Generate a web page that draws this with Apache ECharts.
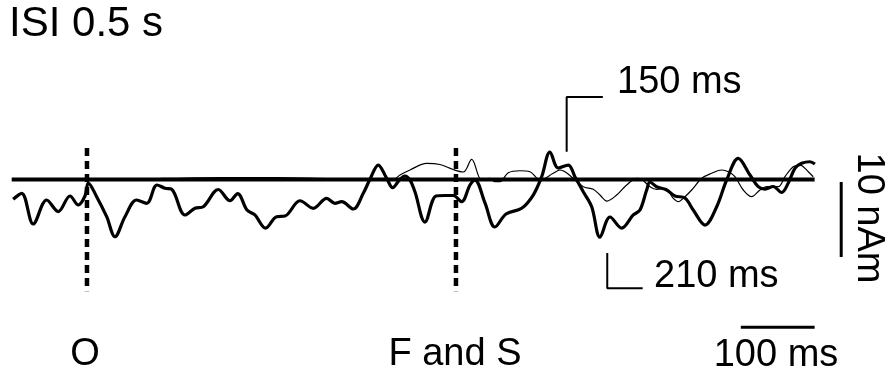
<!DOCTYPE html>
<html><head><meta charset="utf-8">
<script src="https://cdn.jsdelivr.net/npm/echarts/dist/echarts.min.js"></script>
<style>html,body{margin:0;padding:0;background:#fff}#c{width:892px;height:378px}</style>
</head><body><div id="c"></div><script>
// time in ms (0 = O onset), source strength in nAm
const thickTrace = [
[-100,-2.64],[-88.5,-1.84],[-72.8,-5.93],[-54.6,-2.73],[-38.9,-4.27],[-23,-2.2],[-11.8,-3.4],[-2.7,-2.2],[1.8,-0.47],
[13.1,-2.29],[26.7,-4.96],[37.9,-7.63],[51.5,-4.96],[67.3,-2.73],[80.9,-3.17],[94.9,-0.73],[105.7,-1.17],[114.8,-1.31],
[132.8,-4.73],[146.3,-3.84],[157.6,-3.63],[177.9,-1.33],[193.8,-2.83],[204.2,-1.87],[216.8,-4.07],[227.6,-4.73],
[241.9,-6.47],[257,-4.96],[268.3,-4.87],[288.6,-2.83],[306.6,-3.84],[324.8,-2.51],[336,-3.17],[345.1,-2.96],
[360.8,-3.93],[374.4,-1.84],[383.5,0.03],[394.7,1.93],[406.1,0.16],[414.2,-1.09],[424.1,0.03],[430.9,0.47],
[437.7,-0.07],[444.4,-1.63],[458,-5.67],[472.9,-2.2],[485.1,-2.13],[496.3,-2.13],[507.7,-2.96],[519,-0.73],
[525.7,-0.07],[539.3,-3.13],[552.8,-6.33],[567.8,-4.6],[589,-3.84],[604.7,-2.07],[616.1,0.37],[627.4,3.67],
[638.6,1.53],[652.2,1.93],[661.2,0.37],[672.5,-1.63],[683.9,-3.63],[695.1,-7.67],[708.7,-5.0],[724.5,-6.47],
[740.2,-4.73],[749.3,-4.07],[758.4,-1.4],[762.9,-0.33],[771.9,-0.96],[785.5,-1.4],[796.7,-2.2],[810.3,-2.47],
[821.5,-4.07],[837.4,-6.07],[853.3,-3.63],[866.8,-0.07],[882.5,2.83],[898.4,0.6],[909.6,-0.96],[918.7,-1.27],
[929.9,-0.93],[941.3,-1.73],[950.3,-0.47],[959.3,1.49],[968.4,2.16],[979.7,2.37],[986.4,2.07]
];
const thinTrace = [
[-100,0.05],[0,0.1],[100,0.15],[180,0.25],[260,0.25],[330,0.1],[390,0.05],[417.3,0.13],[424.1,0.6],[437.7,1.27],
[460.3,2.16],[478.3,2.0],[496.3,1.33],[509.9,1.0],[521.3,2.69],[534.8,-0.07],[546.1,0.16],[552.8,-0.29],
[559.6,-0.29],[570.9,0.91],[586.7,1.17],[600.3,1.04],[613.8,-0.07],[631.8,0.83],[640.9,1.27],[647.7,1.04],
[658.9,0.16],[672.5,-0.96],[686,-1.31],[695.1,-2.07],[704.6,-2.87],[717.8,-2.07],[731.3,-0.73],[744.9,0.16],
[751.6,0.03],[762.9,-0.96],[772,-1.31],[783.2,-1.17],[794.4,-2.51],[801.2,-2.96],[810.3,-2.29],[819.4,-1.4],
[833,0.16],[846.5,0.83],[860,1.27],[869,1.04],[878,0.37],[889.3,-1.4],[900.7,-2.29],[911.9,-1.4],[921,-0.96],
[936.7,-0.96],[945.8,0.37],[957,1.71],[966.1,1.93],[977.4,1.04],[984.1,0.37]
];
const baselineSpan = [-102, 986];
const stimulusTimes = [0, 500];
const stimulusLabels = ['O', 'F and S'];
const dashRange = [4.2, -14.9];
const marker150 = [[699, 11], [650, 11], [650, 3.7]];
const marker210 = [[705, -9.8], [705, -14.5], [753, -14.5]];
const scaleTime = [[886, -19.7], [986, -19.7]];
const scaleAmp = [[1022, -0.33], [1022, -10.33]];

const chart = echarts.init(document.getElementById('c'), null, {renderer: 'canvas'});
const FONT = '"Liberation Sans", Arial, sans-serif';
const txt = (text, x, y, align, size, extra) => Object.assign({
  type: 'text', x, y, silent: true,
  style: {text, fill: '#000', font: (size || 38) + 'px ' + FONT, textAlign: align || 'left', textVerticalAlign: 'middle'}
}, extra || {});
const lineS = (data, width, extra) => Object.assign({
  type: 'line', data, symbol: 'none', silent: true, clip: false, animation: false,
  lineStyle: {color: '#000', width}
}, extra || {});

const series = [
  lineS(baselineSpan.map(t => [t, 0]), 4.2),
  ...stimulusTimes.map(t => lineS([[t, dashRange[0]], [t, dashRange[1]]], 4, {lineStyle: {color: '#000', width: 4.5, type: [8, 5]}})),
  lineS(thinTrace, 1.2, {smooth: 0.35}),
  lineS(thickTrace, 3.2, {smooth: 0.35}),
  lineS(marker150, 2),
  lineS(marker210, 2),
  lineS(scaleTime, 3),
  lineS(scaleAmp, 3)
];

chart.setOption({
  animation: false,
  backgroundColor: '#fff',
  grid: {left: 11.7, right: 44.9, top: 29.5, bottom: 48.5},
  xAxis: {type: 'value', min: -102, max: 1030, show: false},
  yAxis: {type: 'value', min: -20, max: 20, show: false},
  series,
  graphic: [
    txt('ISI 0.5 s', 9, 24, 'left', 42),
    txt('150 ms', 617, 83),
    txt('210 ms', 654, 277),
    txt(stimulusLabels[0], 85, 355, 'center'),
    txt(stimulusLabels[1], 455, 355, 'center'),
    txt('100 ms', 776, 356, 'center'),
    txt('10 nAm', 868, 218, 'center', 38, {rotation: -Math.PI / 2})
  ]
});
</script></body></html>
